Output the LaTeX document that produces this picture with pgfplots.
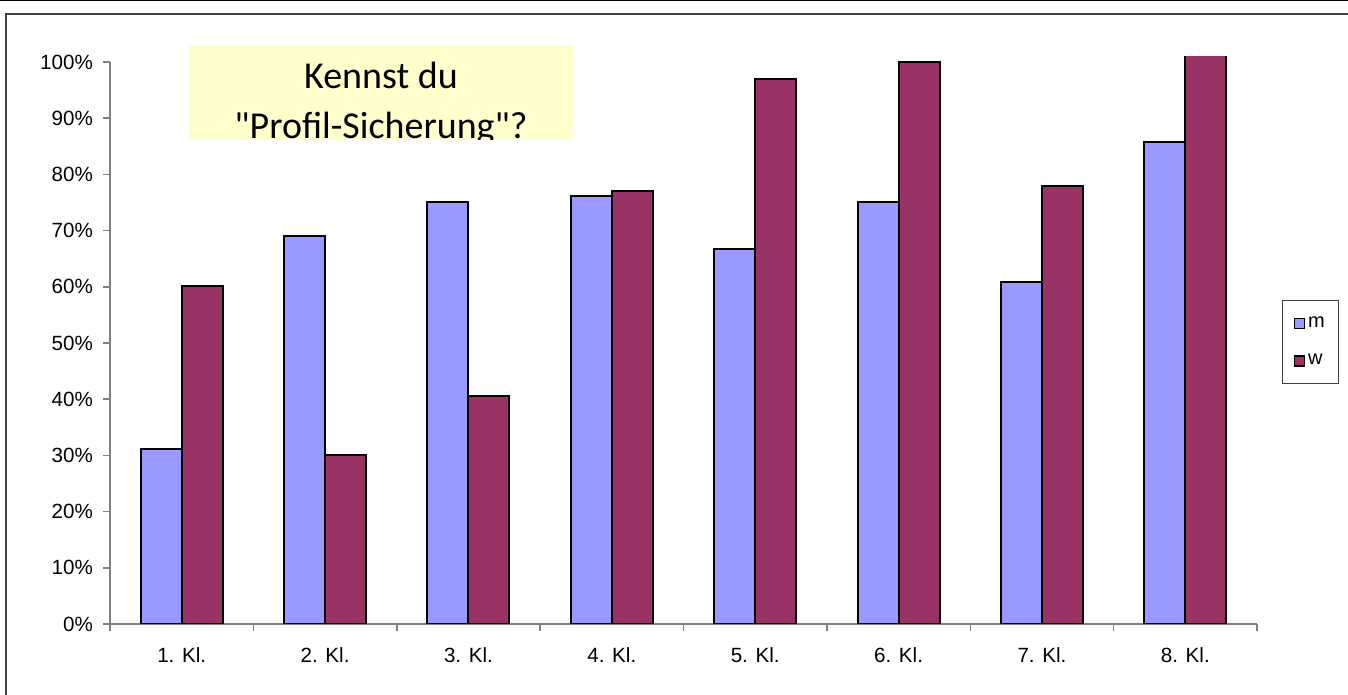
\documentclass[border=0pt]{standalone}
\usepackage{pgfplots}
\pgfplotsset{compat=1.18}
\usepackage{fontspec}
\setmainfont{Liberation Sans}
\newfontfamily\titlefont{Carlito}
\definecolor{mcol}{HTML}{9999FF}
\definecolor{wcol}{HTML}{993366}
\definecolor{boxcol}{HTML}{FFFFCC}
\definecolor{framecol}{HTML}{404040}
\definecolor{axcol}{HTML}{808080}
\begin{document}
\begin{tikzpicture}
\useasboundingbox (0,0) rectangle (674pt,347.5pt);
\draw[black,line width=0.5pt] (0,347pt) -- (674pt,347pt);
\draw[framecol,line width=1pt] (3pt,0) -- (3pt,340.5pt) -- (674pt,340.5pt);
\begin{axis}[
  at={(55pt,35.5pt)}, anchor=south west,
  scale only axis, width=573.5pt, height=283.5pt,
  xmin=-0.5, xmax=7.5, ymin=0, ymax=100.9,
  axis lines=left, axis line style={-, axcol, line width=0.75pt},
  y axis line style={shorten >=2.5pt},
  ybar=0pt, bar width=20.5pt,
  xtick={0,...,7},
  xticklabels={1. Kl.,2. Kl.,3. Kl.,4. Kl.,5. Kl.,6. Kl.,7. Kl.,8. Kl.},
  major x tick style={draw=none},
  minor xtick={-0.5,0.5,...,7.5},
  minor x tick style={axcol, line width=0.75pt},
  minor tick length=3.5pt,
  ytick={0,10,...,100},
  y tick style={axcol, line width=0.75pt},
  major tick length=3.5pt,
  tick align=outside,
  yticklabel={\pgfmathprintnumber{\tick}\%},
  /pgf/number format/assume math mode=true,
  tick label style={font=\fontsize{10.3}{12}\selectfont},
  xticklabel style={yshift=-5pt},
  yticklabel style={xshift=-1.5pt},
  legend style={at={(1.0218,0.497)}, anchor=west, draw=black!75, line width=0.5pt,
    font=\fontsize{10}{12}\selectfont, inner xsep=5.5pt, inner ysep=6pt, row sep=8pt,
    legend cell align=left, nodes={inner xsep=1.5pt}},
  legend image code/.code={\draw[#1,line width=0.75pt] (0pt,-2.5pt) rectangle (5pt,2.5pt);},
  every axis plot/.append style={draw=black, line width=1pt},
]
\addplot[fill=mcol] coordinates {(0,31.1) (1,69.0) (2,75.1) (3,76.2) (4,66.7) (5,75.1) (6,60.9) (7,85.8)};
\addplot[fill=wcol] coordinates {(0,60.1) (1,30.1) (2,40.6) (3,77.0) (4,97.0) (5,100) (6,77.9) (7,105)};
\legend{m,w}
\end{axis}
\begin{scope}
\clip (94.5pt,277.5pt) rectangle (286.5pt,325pt);
\fill[boxcol] (94.5pt,277.5pt) rectangle (286.5pt,325pt);
\node[font=\titlefont\fontsize{19}{23}\selectfont, anchor=base, inner sep=0pt] at (190.5pt,303pt) {Kennst du};
\node[font=\titlefont\fontsize{19}{23}\selectfont, anchor=base, inner sep=0pt] at (190.5pt,278pt) {"Profil-Sicherung"?};
\end{scope}
\end{tikzpicture}
\end{document}
